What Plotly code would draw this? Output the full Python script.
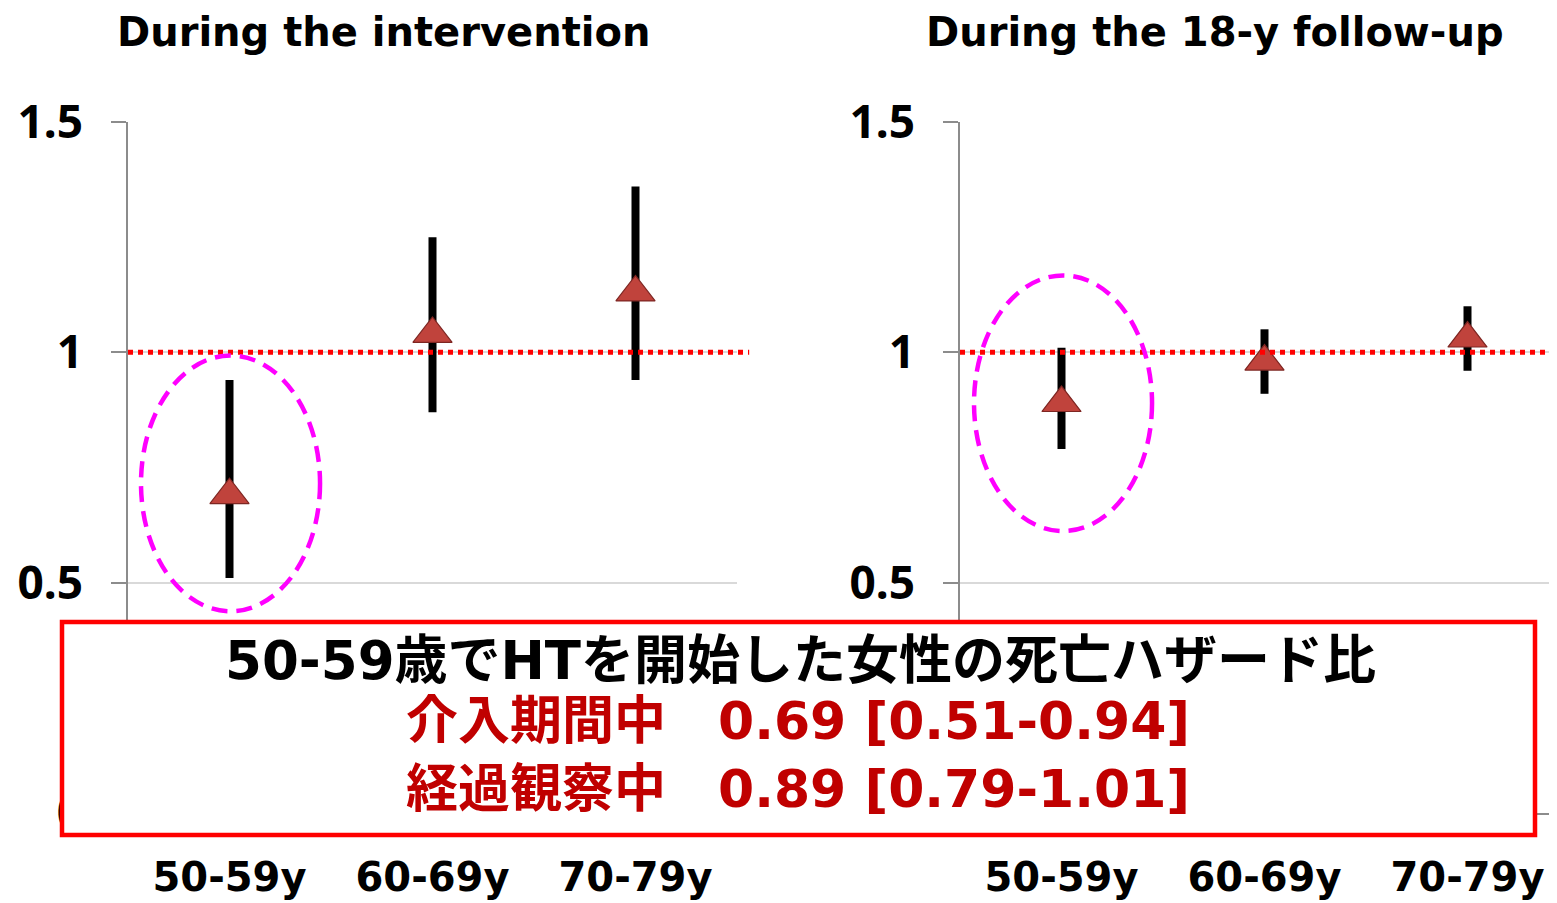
import plotly.graph_objects as go

# ---- data ----
categories = ["50-59y", "60-69y", "70-79y"]
intervention_hr = [0.69, 1.04, 1.13]
intervention_lo = [0.51, 0.87, 0.94]
intervention_hi = [0.94, 1.25, 1.36]
followup_hr = [0.89, 0.98, 1.03]
followup_lo = [0.79, 0.91, 0.96]
followup_hi = [1.01, 1.05, 1.10]
panel_titles = ["During the intervention", "During the 18-y follow-up"]
y_tickvals = [0, 0.5, 1, 1.5]
y_ticktext = ["0", "0.5", "1", "1.5"]
reference_hr = 1
box_title = "50-59歳でHTを開始した女性の死亡ハザード比"
box_lines = ["介入期間中　0.69 [0.51-0.94]", "経過観察中　0.89 [0.79-1.01]"]

W, H = 1557, 903
OX, OY = 8, 8  # page body margin offset
LATIN = "DejaVu Sans, Noto Sans CJK JP, sans-serif"


def px(x):
    return (x - OX) / W


def py(y):
    return 1 - (y - OY) / H


fig = go.Figure()


def add_panel(hr, lo, hi, xa, ya):
    fig.add_trace(go.Scatter(
        x=categories, y=hr, mode="markers", xaxis=xa, yaxis=ya,
        showlegend=False,
        marker=dict(symbol="triangle-up", size=34, color="#c0433c",
                    line=dict(color="#7e2622", width=1.2)),
        error_y=dict(type="data", symmetric=False,
                     array=[h - v for h, v in zip(hi, hr)],
                     arrayminus=[v - l for v, l in zip(hr, lo)],
                     color="black", thickness=8, width=0),
    ))


add_panel(intervention_hr, intervention_lo, intervention_hi, "x", "y")
add_panel(followup_hr, followup_lo, followup_hi, "x2", "y2")

ydom = [py(813), py(122)]
xaxis_common = dict(
    type="category", showline=True, linecolor="#8c8c8c", linewidth=1.5,
    ticks="", showgrid=False, zeroline=False, automargin=False,
    tickfont=dict(family=LATIN, size=40, color="black", weight="bold"),
    ticklabelstandoff=28, fixedrange=True,
)
yaxis_common = dict(
    range=[0, 1.5], tickvals=y_tickvals, ticktext=y_ticktext,
    showline=True, linecolor="#8c8c8c", linewidth=1.5,
    ticks="outside", ticklen=15, tickcolor="#8c8c8c", tickwidth=1.5,
    showgrid=True, gridcolor="#d9d9d9", gridwidth=1.5, zeroline=False,
    automargin=False,
    tickfont=dict(family="Noto Sans", size=46, color="black", weight="bold"),
    ticklabelstandoff=19, domain=ydom, fixedrange=True,
)

fig.update_layout(
    template="none",
    width=W, height=H, margin=dict(l=0, r=0, t=0, b=0, pad=0), autosize=False,
    paper_bgcolor="white", plot_bgcolor="white",
    xaxis=dict(domain=[px(128), px(737)], range=[-0.5, 2.5], anchor="y", **xaxis_common),
    yaxis=dict(anchor="x", **yaxis_common),
    xaxis2=dict(domain=[px(960), 1.0], range=[-0.5, 2.5 - 4 / 203], anchor="y2", **xaxis_common),
    yaxis2=dict(anchor="x2", **yaxis_common),
)

shapes = []
# reference lines at HR = 1
shapes.append(dict(type="line", xref="x domain", yref="y", x0=0, x1=1.02,
                   y0=reference_hr, y1=reference_hr,
                   line=dict(color="#ff0000", width=5, dash="dot"), layer="above"))
shapes.append(dict(type="line", xref="x2 domain", yref="y2", x0=0, x1=1,
                   y0=reference_hr, y1=reference_hr,
                   line=dict(color="#ff0000", width=5, dash="dot"), layer="above"))
# magenta highlight ellipses around the 50-59y group
shapes.append(dict(type="circle", xref="x", yref="y", x0=-0.436, x1=0.446,
                   y0=0.438, y1=0.993,
                   line=dict(color="#ff00ff", width=4.5, dash="16px,9px"), layer="above"))
shapes.append(dict(type="circle", xref="x2", yref="y2", x0=-0.431, x1=0.446,
                   y0=0.612, y1=1.167,
                   line=dict(color="#ff00ff", width=4.5, dash="16px,9px"), layer="above"))
# red summary box
shapes.append(dict(type="rect", xref="paper", yref="paper",
                   x0=px(62), x1=px(1535), y0=py(835), y1=py(622),
                   line=dict(color="#ff0000", width=4.5), fillcolor="white", layer="above"))
fig.update_layout(shapes=shapes)

annotations = []
for title, cx in zip(panel_titles, [383, 1215]):
    annotations.append(dict(text=title, xref="paper", yref="paper",
                            x=px(cx), y=py(32), xanchor="center", yanchor="middle",
                            showarrow=False,
                            font=dict(family=LATIN, size=40, color="black", weight="bold")))
annotations.append(dict(text=box_title, xref="paper", yref="paper",
                        x=px(800), y=py(660), xanchor="center", yanchor="middle",
                        showarrow=False,
                        font=dict(family=LATIN, size=53, color="black", weight="bold")))
annotations.append(dict(text="<br>".join(box_lines), xref="paper", yref="paper",
                        x=px(798), y=py(755), xanchor="center", yanchor="middle",
                        showarrow=False, align="center",
                        font=dict(family=LATIN, size=52, color="#c00000", weight="bold")))
fig.update_layout(annotations=annotations)

fig.write_html("out.html")
